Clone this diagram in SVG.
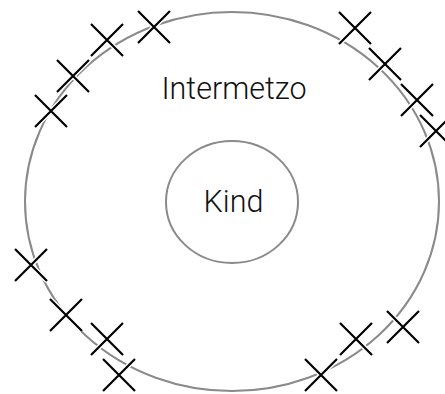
<svg xmlns="http://www.w3.org/2000/svg" width="445" height="394" viewBox="0 0 445 394">
<defs>
<style>
.ring{fill:none;stroke:#8a8a8a;stroke-width:2}
.lbl{font-family:"Roboto","Liberation Sans",sans-serif;font-weight:300;font-size:30.5px;fill:#111;text-anchor:middle}
.halo{stroke:#fff;stroke-width:5;fill:none}
.xk{stroke:#000;stroke-width:2.2;fill:none}
</style>
<g id="x">
<path class="halo" d="M-16,-16L16,16M16,-16L-16,16"/>
<path class="xk" d="M-16,-16L16,16M16,-16L-16,16"/>
</g>
</defs>
<rect width="445" height="394" fill="#fff"/>
<g id="intermetzo">
<ellipse class="ring" cx="232" cy="201.5" rx="207" ry="189.5"/>
<text class="lbl" x="234" y="99">Intermetzo</text>
</g>
<g id="kind">
<ellipse class="ring" cx="232" cy="202" rx="66" ry="61"/>
<text class="lbl" x="233.5" y="212">Kind</text>
</g>
<g id="marks">
<use href="#x" x="154" y="27"/>
<use href="#x" x="107" y="40"/>
<use href="#x" x="73" y="76"/>
<use href="#x" x="51" y="111"/>
<use href="#x" x="355" y="28"/>
<use href="#x" x="385" y="64"/>
<use href="#x" x="417" y="100"/>
<use href="#x" x="436" y="131"/>
<use href="#x" x="31" y="265"/>
<use href="#x" x="66" y="315"/>
<use href="#x" x="107" y="339"/>
<use href="#x" x="119" y="375"/>
<use href="#x" x="321" y="375"/>
<use href="#x" x="356" y="339"/>
<use href="#x" x="403" y="327"/>
</g>
</svg>
